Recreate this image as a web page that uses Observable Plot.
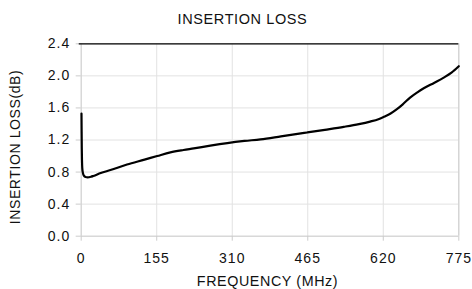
<!DOCTYPE html>
<html>
<head>
<meta charset="utf-8">
<script src="https://cdn.jsdelivr.net/npm/d3@7"></script>
<script src="https://cdn.jsdelivr.net/npm/@observablehq/plot@0.6"></script>
<style>
  html, body { margin: 0; padding: 0; background: #fff; }
  #chart svg { display: block; font-family: "Liberation Sans", Arial, sans-serif; }
</style>
</head>
<body>
<div id="chart"></div>
<script>
const chartTitle = "INSERTION LOSS";
const xLabel = "FREQUENCY (MHz)";
const yLabel = "INSERTION LOSS(dB)";
const xTicks = [0, 155, 310, 465, 620, 775];
const yTicks = [0, 0.4, 0.8, 1.2, 1.6, 2.0, 2.4];
const frequency = [0.6, 0.9, 1.2, 1.6, 2.2, 3.5, 5.5, 9, 13, 20, 25, 40, 60, 94, 130, 156, 183, 210, 231, 265, 300, 335, 368, 410, 464, 500, 539, 570, 593, 610, 621, 635, 648, 660, 675, 690, 703, 725, 744, 760, 775];
const loss      = [1.53, 1.30, 1.10, 0.95, 0.85, 0.79, 0.755, 0.738, 0.735, 0.742, 0.752, 0.788, 0.825, 0.895, 0.955, 1.0, 1.045, 1.075, 1.095, 1.13, 1.162, 1.188, 1.208, 1.245, 1.294, 1.327, 1.364, 1.398, 1.43, 1.46, 1.489, 1.53, 1.584, 1.645, 1.729, 1.795, 1.845, 1.915, 1.978, 2.04, 2.12];

const data = frequency.map((f, i) => ({f, v: loss[i]}));

const W = 472, H = 289;
const mL = 80.7, mR = 13.7, mT = 43.3, mB = 53.3;
const cx = mL + (W - mL - mR) / 2;
const cy = mT + (H - mT - mB) / 2;

const plot = Plot.plot({
  width: W,
  height: H,
  marginLeft: mL,
  marginRight: mR,
  marginTop: mT,
  marginBottom: mB,
  style: {fontFamily: "'Liberation Sans', Arial, sans-serif", background: "#fff", overflow: "visible"},
  x: {domain: [0, 775]},
  y: {domain: [0, 2.4]},
  marks: [
    Plot.gridX(xTicks, {stroke: "#e2e2e2", strokeOpacity: 1}),
    Plot.gridY(yTicks, {stroke: "#e2e2e2", strokeOpacity: 1}),
    Plot.ruleX([0], {stroke: "#d0d0d0"}),
    Plot.ruleX([775], {stroke: "#cccccc"}),
    Plot.ruleY([0], {stroke: "#d0d0d0"}),
    Plot.axisX(xTicks, {
      tickSize: 5, tickPadding: 12, stroke: "#cccccc", strokeOpacity: 1,
      fontSize: 14, fill: "#111", label: null, tickFormat: d => String(d)
    }),
    Plot.axisY(yTicks, {
      tickSize: 5, tickPadding: 6, stroke: "#cccccc", strokeOpacity: 1,
      fontSize: 14, fill: "#111", label: null, tickFormat: d3.format(".1f")
    }),
    Plot.ruleY([2.4], {stroke: "#000", strokeWidth: 1.3, x1: -4, x2: 775}),
    Plot.line(data, {x: "f", y: "v", stroke: "#000", strokeWidth: 2.2, curve: "monotone-x"}),
    Plot.text([chartTitle], {frameAnchor: "top", lineAnchor: "bottom", dx: 242 - cx, dy: 23 - mT, fontSize: 14.5, fill: "#111"}),
    Plot.text([xLabel], {frameAnchor: "bottom", lineAnchor: "bottom", dx: 267 - cx, dy: 285 - (H - mB), fontSize: 14.3, fill: "#111"}),
    Plot.text([yLabel], {frameAnchor: "left", textAnchor: "middle", lineAnchor: "middle", rotate: -90, dx: 15 - mL, dy: 146.5 - cy, fontSize: 14, fill: "#111"})
  ]
});

d3.select(plot).selectAll("g[aria-label='x-axis tick label'] text, g[aria-label='y-axis tick label'] text").style("letter-spacing", "1px");
d3.select(plot).selectAll("g[aria-label='text'] text").style("letter-spacing", "0.6px");

document.getElementById("chart").appendChild(plot);
</script>
</body>
</html>
